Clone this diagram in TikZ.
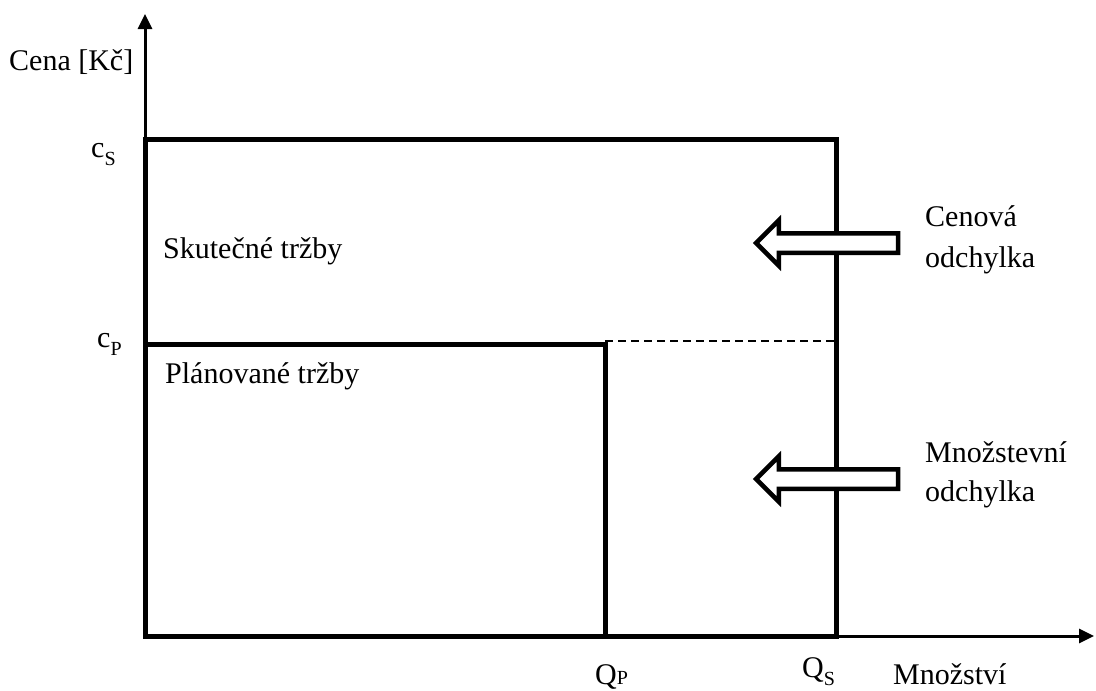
\documentclass[tikz,border=0pt]{standalone}
\usepackage{fontspec}
\setmainfont{Liberation Serif}
\usetikzlibrary{arrows.meta, shapes.arrows, positioning}

\newcommand{\lowsub}[1]{\raisebox{-8pt}{\fontsize{20}{20}\selectfont #1}}
\newcommand{\smallsub}[1]{{\fontsize{20}{20}\selectfont #1}}

\begin{document}
\begin{tikzpicture}[
            x=1pt, y=-1pt,
            axis/.style={line width=3pt, -{Triangle[width=14pt, length=15pt]}},
            area/.style={line width=5pt},
            txt/.style={font=\fontsize{30}{36}\selectfont, inner sep=0pt, anchor=base west},
            shiftarrow/.style={single arrow, draw, line width=4.5pt, fill=white, shape border rotate=180,
                minimum height=142pt, inner xsep=0pt, inner ysep=7.5pt, single arrow head extend=13pt}
        ]
            \useasboundingbox (0,0) rectangle (1096,691);
            % corners of the two revenue areas
            \coordinate (O) at (145,636);
            \coordinate (S) at (836,139);
            \coordinate (P) at (605,344);
            \coordinate (dashend) at (836,341);
            \coordinate (yend) at (145,14);
            \coordinate (xend) at (1094,636);
            \draw[area] (O) rectangle (S);
            \draw[area] (O) rectangle (P);
            \draw[line width=2pt, dash pattern=on 8pt off 5pt] (P |- dashend) -- (dashend);
            \draw[axis] (O) -- (yend);
            \draw[axis] (O) -- (xend);
            % variance arrows
            \node[shiftarrow] (cenarrow) at (832,243) {};
            \node[shiftarrow] (mnarrow) at (832,479) {};
            % labels
            \node[txt] (cena) at (9,70) {Cena [Kč]};
            \node[txt] (cs) at (91,157) {c\lowsub{S}};
            \node[txt] (cp) at (97,347) {c\lowsub{P}};
            \node[txt] (skut) at (163,258) {Skutečné tržby};
            \node[txt] (plan) at (165,383) {Plánované tržby};
            \node[txt] (cenova) at (925,226) {Cenová};
            \node[txt] (cenodch) at (925,267) {odchylka};
            \node[txt] (mnoz) at (925,462) {Množstevní};
            \node[txt] (mnodch) at (925,501) {odchylka};
            \node[txt] (qp) at (595,684) {Q\smallsub{P}};
            \node[txt] (qs) at (802,677) {Q\lowsub{S}};
            \node[txt] (mnozstvi) at (893,684) {Množství};
        \end{tikzpicture}
\end{document}
